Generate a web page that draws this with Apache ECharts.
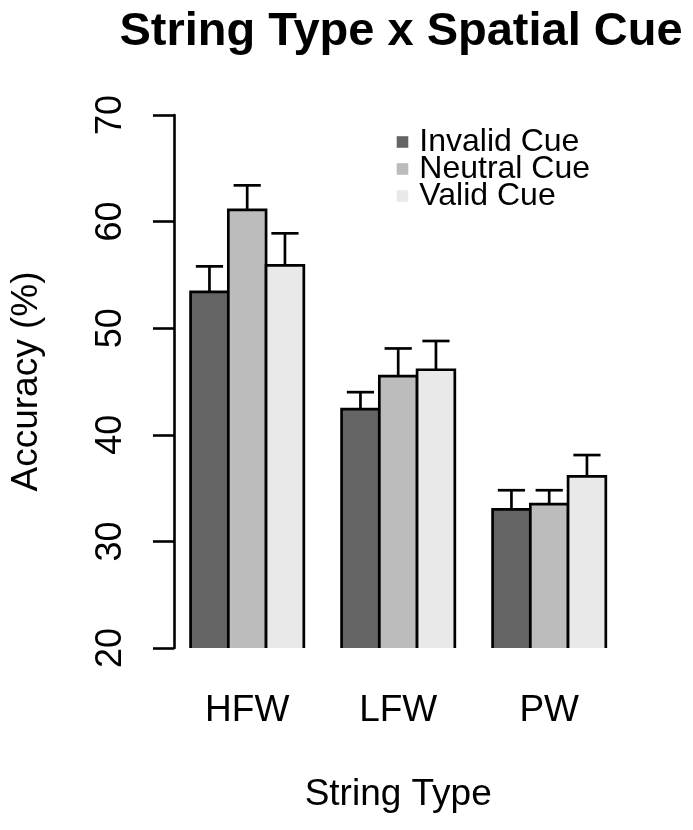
<!DOCTYPE html>
<html>
<head>
<meta charset="utf-8">
<script src="https://cdn.jsdelivr.net/npm/echarts@6/dist/echarts.min.js"></script>
<style>
html,body{margin:0;padding:0;background:#fff;}
#chart{width:693px;height:830px;}
</style>
</head>
<body>
<div id="chart"></div>
<script>
// ---- data ----
var categories = ['HFW', 'LFW', 'PW'];
var seriesNames = ['Invalid Cue', 'Neutral Cue', 'Valid Cue'];
var invalidMean = [53.4, 42.4, 33.0];
var neutralMean = [61.1, 45.5, 33.5];
var validMean   = [55.9, 46.1, 36.1];
var invalidSE = [2.4, 1.6, 1.8];
var neutralSE = [2.3, 2.6, 1.3];
var validSE   = [3.0, 2.7, 2.0];
var yTicks = [20, 30, 40, 50, 60, 70];

var colors = ['#646464', '#bcbcbc', '#e9e9e9'];
var FONT = "'Liberation Sans', Arial, Helvetica, sans-serif";
var Y_MIN = yTicks[0];

function makeRender(k, color) {
  return function (params, api) {
    var ci = api.value(0), v = api.value(1), se = api.value(2);
    var bandW = api.size([1, 0])[0];
    var bw = bandW * 0.75 / 3;
    var c = api.coord([ci, v]);
    var bot = api.coord([ci, Y_MIN])[1];
    var top = c[1];
    var x0 = c[0] - 1.5 * bw + k * bw;
    var cx = x0 + bw / 2;
    var eTop = api.coord([ci, v + se])[1];
    var lw = 2.7, cap = 13.6;
    return {
      type: 'group',
      children: [
        { type: 'rect', shape: { x: x0, y: top, width: bw, height: bot - top }, style: { fill: color } },
        { type: 'polyline', shape: { points: [[x0, bot], [x0, top], [x0 + bw, top], [x0 + bw, bot]] },
          style: { stroke: '#000', lineWidth: lw, fill: null, lineJoin: 'miter' } },
        { type: 'line', shape: { x1: cx, y1: top, x2: cx, y2: eTop }, style: { stroke: '#000', lineWidth: lw } },
        { type: 'line', shape: { x1: cx - cap, y1: eTop, x2: cx + cap, y2: eTop }, style: { stroke: '#000', lineWidth: lw } }
      ]
    };
  };
}

function buildData(means, ses) {
  return categories.map(function (c, i) { return [i, means[i], ses[i]]; });
}

var allMeans = [invalidMean, neutralMean, validMean];
var allSE = [invalidSE, neutralSE, validSE];

var series = seriesNames.map(function (name, k) {
  return {
    name: name,
    type: 'custom',
    renderItem: makeRender(k, colors[k]),
    itemStyle: { color: colors[k] },
    encode: { x: 0, y: 1 },
    data: buildData(allMeans[k], allSE[k]),
    clip: false
  };
});

var chart = echarts.init(document.getElementById('chart'), null, { renderer: 'canvas' });
chart.setOption({
  animation: false,
  backgroundColor: '#fff',
  textStyle: { fontFamily: FONT },
  title: {
    text: 'String Type x Spatial Cue',
    left: 396,
    top: 4,
    textAlign: 'center',
    textStyle: { fontFamily: FONT, fontSize: 47, fontWeight: 'bold', color: '#000' }
  },
  legend: {
    orient: 'vertical',
    left: 391.7,
    top: 121,
    itemWidth: 11.6,
    itemHeight: 11.6,
    itemGap: -5,
    icon: 'rect',
    itemStyle: { borderWidth: 0 },
    textStyle: { fontFamily: FONT, fontSize: 32, color: '#000', lineHeight: 27, padding: [0, 0, 0, 6] },
    data: seriesNames
  },
  grid: { left: 171.7, top: 115, width: 453, bottom: 182, containLabel: false },
  xAxis: {
    type: 'category',
    data: categories,
    axisLine: { show: false },
    axisTick: { show: false },
    axisLabel: { fontFamily: FONT, fontSize: 37, color: '#000', margin: 44.7 },
    name: 'String Type',
    nameLocation: 'middle',
    nameGap: 128.7,
    nameTextStyle: { fontFamily: FONT, fontSize: 37, color: '#000' }
  },
  yAxis: {
    type: 'value',
    min: 20,
    max: 70,
    interval: 10,
    offset: -2.3,
    splitLine: { show: false },
    axisLine: { show: true, lineStyle: { color: '#000', width: 2.6 } },
    axisTick: { show: true, length: 21, lineStyle: { color: '#000', width: 2.6 } },
    axisLabel: { fontFamily: FONT, fontSize: 36, color: '#000', rotate: 90, margin: 44.5 },
    name: 'Accuracy (%)',
    nameLocation: 'middle',
    nameGap: 129,
    nameRotate: 90,
    nameTextStyle: { fontFamily: FONT, fontSize: 37, color: '#000' }
  },
  series: series
});
</script>
</body>
</html>
